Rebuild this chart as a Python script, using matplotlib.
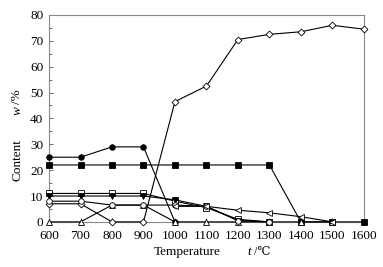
import numpy as np
import matplotlib.pyplot as plt

plt.rcParams['font.family'] = ['Liberation Serif', 'DejaVu Serif']

temps = [600, 700, 800, 900, 1000, 1100, 1200, 1300, 1400, 1500, 1600]

# content w/% per phase
filled_circle = [25, 25, 29, 29, 0]
filled_square = [22, 22, 22, 22, 22, 22, 22, 22, 0, 0, 0]
open_diamond = [7, 7, 0, 0, 46.5, 52.5, 70.5, 72.5, 73.5, 76, 74.5]
open_up_tri = [0, 0, 6.5, 6.5, 0, 0, 0, 0, 0, 0]
open_square = [11, 11, 11, 11, 8, 5.5, 1, 0]
filled_down_tri = [10, 10, 10, 10, 8.5, 6, 0.5, 0]
open_circle = [8, 8, 6.5, 6.5, 6.5, 6, 0.5, 0]
left_tri_x = [1000, 1100, 1200, 1300, 1400, 1500]
left_tri = [6, 6, 4.5, 3.5, 2, 0]

fig = plt.figure(figsize=(3.83, 2.67), dpi=100)
ax = fig.add_axes([0.128, 0.169, 0.822, 0.775])

kw = dict(color='black', lw=0.8, ms=4, mew=0.6, clip_on=False, zorder=3)
ax.plot(temps[:len(filled_circle)], filled_circle, marker='o', mfc='black', **kw)
ax.plot(temps[:len(filled_square)], filled_square, marker='s', mfc='black', **kw)
ax.plot(temps[:len(open_diamond)], open_diamond, marker='D', ms=3.5, color='black',
        lw=0.8, mew=0.6, mfc='white', clip_on=False, zorder=3)
ax.plot(temps[:len(open_up_tri)], open_up_tri, marker='^', mfc='white', **kw)
ax.plot(temps[:len(open_square)], open_square, marker='s', mfc='white', **kw)
ax.plot(temps[:len(filled_down_tri)], filled_down_tri, marker='v', mfc='black', **kw)
ax.plot(temps[:len(open_circle)], open_circle, marker='o', mfc='white', **kw)
ax.plot(left_tri_x, left_tri, marker='<', mfc='white', **kw)

ax.set_xlim(600, 1600)
ax.set_ylim(0, 80)
ax.set_xticks(np.arange(600, 1601, 100))
ax.set_yticks(np.arange(0, 81, 10))
ax.set_yticks(np.arange(0, 81, 5), minor=True)
ax.tick_params(direction='in', labelsize=9.5, length=3, width=0.6, color='#555555')
ax.tick_params(axis='x', pad=6)
ax.tick_params(axis='y', pad=4)
ax.tick_params(which='minor', direction='in', length=2, width=0.6, color='#555555')
for s in ax.spines.values():
    s.set_color('#888888')
    s.set_linewidth(0.8)

# axis titles built from pieces so the italic symbol and the degree sign both render
fig.text(0.576, 0.045, 'Temperature', fontsize=9.5, ha='right', va='baseline')
fig.text(0.645, 0.045, 't', fontsize=9.5, style='italic', ha='left', va='baseline')
fig.text(0.662, 0.045, '/\u2103', fontsize=8.5, ha='left', va='baseline',
         family=['Liberation Serif', 'DejaVu Serif'])
fig.text(0.045, 0.478, 'Content', fontsize=9.5, rotation=90, ha='center', va='top')
fig.text(0.045, 0.57, 'w', fontsize=9.5, style='italic', rotation=90, ha='center', va='bottom')
fig.text(0.045, 0.612, '/%', fontsize=9.5, rotation=90, ha='center', va='bottom')

fig.savefig('out.png', dpi=100)
